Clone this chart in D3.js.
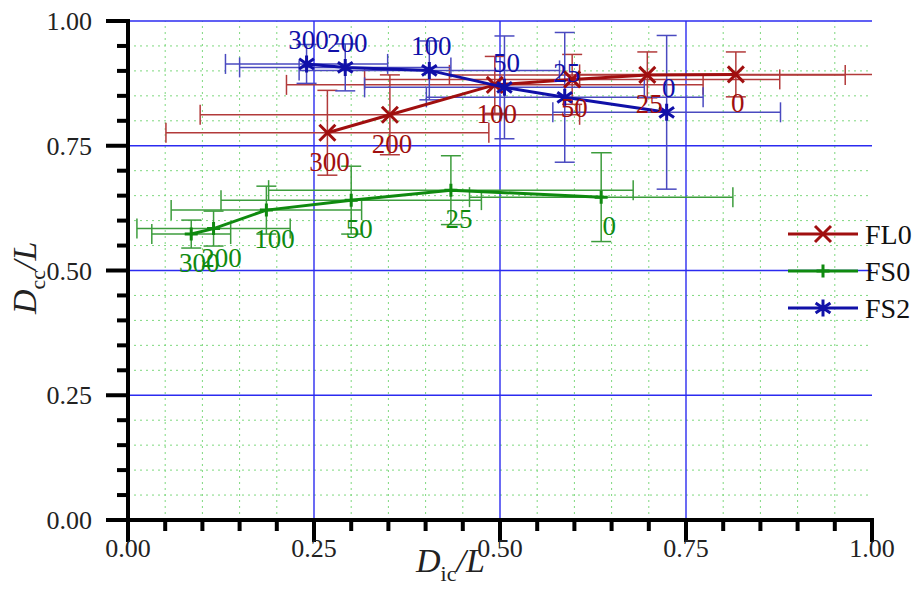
<!DOCTYPE html>
<html>
<head>
<meta charset="utf-8">
<script src="https://cdn.jsdelivr.net/npm/d3@7/dist/d3.min.js"></script>
<style>
  html, body { margin: 0; padding: 0; background: #fff; }
  svg { display: block; }
  svg text { font-family: "Liberation Serif", "Times New Roman", Times, "DejaVu Serif", serif; }
</style>
</head>
<body>
<svg id="chart" width="918" height="590"></svg>
<script>
// Point labels (same order for every series)
const pointLabels = ["300", "200", "100", "50", "25", "0"];

// FL0
const fl0X    = [0.268, 0.352, 0.493, 0.597, 0.698, 0.817];
const fl0Y    = [0.776, 0.812, 0.872, 0.883, 0.892, 0.893];
const fl0XErr = [0.217, 0.255, 0.280, 0.279, 0.266, 0.210];
const fl0YErr = [0.085, 0.080, 0.057, 0.050, 0.046, 0.045];

// FS0
const fs0X    = [0.085, 0.115, 0.186, 0.300, 0.434, 0.636];
const fs0Y    = [0.573, 0.584, 0.621, 0.641, 0.661, 0.647];
const fs0XErr = [0.053, 0.103, 0.128, 0.175, 0.245, 0.177];
const fs0YErr = [0.028, 0.035, 0.048, 0.068, 0.069, 0.089];

// FS2
const fs2X    = [0.240, 0.292, 0.405, 0.506, 0.587, 0.724];
const fs2Y    = [0.914, 0.907, 0.901, 0.867, 0.847, 0.817];
const fs2XErr = [0.109, 0.142, 0.175, 0.188, 0.186, 0.153];
const fs2YErr = [0.039, 0.047, 0.059, 0.103, 0.130, 0.154];

const seriesNames = ["FL0", "FS0", "FS2"];
const tickValues = [0, 0.25, 0.5, 0.75, 1.0];
const tickLabels = ["0.00", "0.25", "0.50", "0.75", "1.00"];

const FONT = "'Liberation Serif', 'Times New Roman', Times, 'DejaVu Serif', serif";

const svg = d3.select("#chart");
const x = d3.scaleLinear().domain([0, 1]).range([128, 872]);
const y = d3.scaleLinear().domain([0, 1]).range([520, 21]);

const minorVals = d3.range(0, 1.0001, 0.05).map(v => +v.toFixed(2));

// clip region for error bars
svg.append("defs").append("clipPath").attr("id", "plotClip")
  .append("rect").attr("x", x(0)).attr("y", y(1) - 2)
  .attr("width", x(1) - x(0)).attr("height", y(0) - y(1) + 2);

// minor grid (dotted green)
const grid = svg.append("g");
minorVals.filter(v => v > 0 && Math.abs(v * 4 - Math.round(v * 4)) > 1e-6).forEach(v => {
  grid.append("line").attr("x1", x(v)).attr("x2", x(v)).attr("y1", y(0)).attr("y2", y(1))
    .attr("stroke", "#7ed87e").attr("stroke-width", 1).attr("stroke-dasharray", "2,4");
  grid.append("line").attr("x1", x(0)).attr("x2", x(1)).attr("y1", y(v)).attr("y2", y(v))
    .attr("stroke", "#7ed87e").attr("stroke-width", 1).attr("stroke-dasharray", "2,4");
});
// major grid (solid blue)
[0.25, 0.5, 0.75].forEach(v => {
  grid.append("line").attr("x1", x(v)).attr("x2", x(v)).attr("y1", y(0)).attr("y2", y(1))
    .attr("stroke", "#2b2bf0").attr("stroke-width", 1.4);
});
[0.25, 0.5, 0.75, 1.0].forEach(v => {
  grid.append("line").attr("x1", x(0)).attr("x2", x(1)).attr("y1", y(v)).attr("y2", y(v))
    .attr("stroke", "#2b2bf0").attr("stroke-width", 1.4);
});

// series definitions
const series = [
  { name: seriesNames[0], xs: fl0X, ys: fl0Y, xe: fl0XErr, ye: fl0YErr,
    color: "#a00f0f", errColor: "#b23a3a", marker: "x", labelDx: 2, labelDy: 38 },
  { name: seriesNames[1], xs: fs0X, ys: fs0Y, xe: fs0XErr, ye: fs0YErr,
    color: "#0f8a0f", errColor: "#3c9c3c", marker: "plus", labelDx: 8, labelDy: 38 },
  { name: seriesNames[2], xs: fs2X, ys: fs2Y, xe: fs2XErr, ye: fs2YErr,
    color: "#1010a8", errColor: "#4a4ac0", marker: "star", labelDx: 2, labelDy: -15 }
].map(s => ({ ...s, pts: s.xs.map((v, i) => ({ x: v, y: s.ys[i], xe: s.xe[i], ye: s.ye[i], label: pointLabels[i] })) }));

function markerPath(type, r) {
  if (type === "x") return `M${-r},${-r}L${r},${r}M${-r},${r}L${r},${-r}`;
  if (type === "plus") return `M${-r},0L${r},0M0,${-r}L0,${r}`;
  // asterisk: vertical plus two diagonals
  const a = r * 0.87, b = r * 0.6;
  return `M0,${-r}L0,${r}M${-a},${-b}L${a},${b}M${-a},${b}L${a},${-b}`;
}
const markerSize = { x: 8, plus: 6.5, star: 8.5 };

const cap = 10;
// error bars
const errG = svg.append("g").attr("clip-path", "url(#plotClip)");
series.forEach(s => {
  s.pts.forEach(p => {
    const g = errG.append("g").attr("stroke", s.errColor).attr("stroke-width", 1.5).attr("fill", "none");
    const x0 = x(p.x - p.xe), x1 = x(p.x + p.xe), yy = y(p.y);
    g.append("line").attr("x1", x0).attr("x2", x1).attr("y1", yy).attr("y2", yy);
    g.append("line").attr("x1", x0).attr("x2", x0).attr("y1", yy - cap).attr("y2", yy + cap);
    g.append("line").attr("x1", x1).attr("x2", x1).attr("y1", yy - cap).attr("y2", yy + cap);
    const y0 = y(p.y - p.ye), y1 = y(p.y + p.ye), xx = x(p.x);
    g.append("line").attr("x1", xx).attr("x2", xx).attr("y1", y0).attr("y2", y1);
    g.append("line").attr("x1", xx - cap).attr("x2", xx + cap).attr("y1", y0).attr("y2", y0);
    g.append("line").attr("x1", xx - cap).attr("x2", xx + cap).attr("y1", y1).attr("y2", y1);
  });
});

// lines, markers, point labels
const line = d3.line().x(d => x(d.x)).y(d => y(d.y));
series.forEach(s => {
  svg.append("path").datum(s.pts).attr("d", line)
    .attr("fill", "none").attr("stroke", s.color).attr("stroke-width", 3);
  svg.append("g").selectAll("path").data(s.pts).join("path")
    .attr("transform", d => `translate(${x(d.x)},${y(d.y)})`)
    .attr("d", markerPath(s.marker, markerSize[s.marker]))
    .attr("stroke", s.color).attr("stroke-width", 3).attr("fill", "none");
});
series.forEach(s => {
  svg.append("g").selectAll("text").data(s.pts).join("text")
    .attr("x", d => x(d.x) + s.labelDx).attr("y", d => y(d.y) + s.labelDy)
    .attr("text-anchor", "middle").attr("font-family", FONT).attr("font-size", 27).attr("fill", s.color)
    .text(d => d.label);
});

// axes
const axG = svg.append("g").attr("stroke", "#000").attr("stroke-linecap", "butt");
axG.append("line").attr("x1", x(0)).attr("x2", x(0)).attr("y1", y(1) - 2).attr("y2", y(0) + 2).attr("stroke-width", 4);
axG.append("line").attr("x1", x(0) - 2).attr("x2", x(1) + 2).attr("y1", y(0)).attr("y2", y(0)).attr("stroke-width", 4);
minorVals.forEach(v => {
  const major = tickValues.some(t => Math.abs(t - v) < 1e-6);
  const len = major ? 22 : 11;
  axG.append("line").attr("x1", x(0) - len).attr("x2", x(0)).attr("y1", y(v)).attr("y2", y(v)).attr("stroke-width", 4);
  axG.append("line").attr("x1", x(v)).attr("x2", x(v)).attr("y1", y(0)).attr("y2", y(0) + len).attr("stroke-width", 4);
});
tickValues.forEach((v, i) => {
  svg.append("text").attr("x", 92).attr("y", y(v) + 9).attr("text-anchor", "end")
    .attr("font-family", FONT).attr("font-size", 26).attr("fill", "#222").text(tickLabels[i]);
  svg.append("text").attr("x", x(v)).attr("y", 557).attr("text-anchor", "middle")
    .attr("font-family", FONT).attr("font-size", 26).attr("fill", "#222").text(tickLabels[i]);
});

// axis titles
const xt = svg.append("text").attr("x", 416).attr("y", 572).attr("font-family", FONT)
  .attr("font-size", 34).attr("fill", "#222");
xt.append("tspan").attr("font-style", "italic").text("D");
xt.append("tspan").attr("font-size", 22).attr("dy", 9).text("ic");
xt.append("tspan").attr("dy", -9).attr("font-style", "italic").text("/L");

const yt = svg.append("text").attr("transform", "translate(36,314) rotate(-90)")
  .attr("font-family", FONT).attr("font-size", 34).attr("fill", "#222");
yt.append("tspan").attr("font-style", "italic").text("D");
yt.append("tspan").attr("font-size", 22).attr("dy", 9).text("cc");
yt.append("tspan").attr("dy", -9).attr("font-style", "italic").text("/L");

// legend
const legY = [234, 271, 308];
series.forEach((s, i) => {
  const g = svg.append("g").attr("transform", `translate(0,${legY[i]})`);
  g.append("line").attr("x1", 788).attr("x2", 858).attr("y1", 0).attr("y2", 0)
    .attr("stroke", s.color).attr("stroke-width", 3);
  g.append("path").attr("transform", "translate(823,0)")
    .attr("d", markerPath(s.marker, markerSize[s.marker]))
    .attr("stroke", s.color).attr("stroke-width", 3).attr("fill", "none");
  g.append("text").attr("x", 865).attr("y", 10).attr("font-family", FONT)
    .attr("font-size", 28).attr("fill", "#111").text(s.name);
});
</script>
</body>
</html>
